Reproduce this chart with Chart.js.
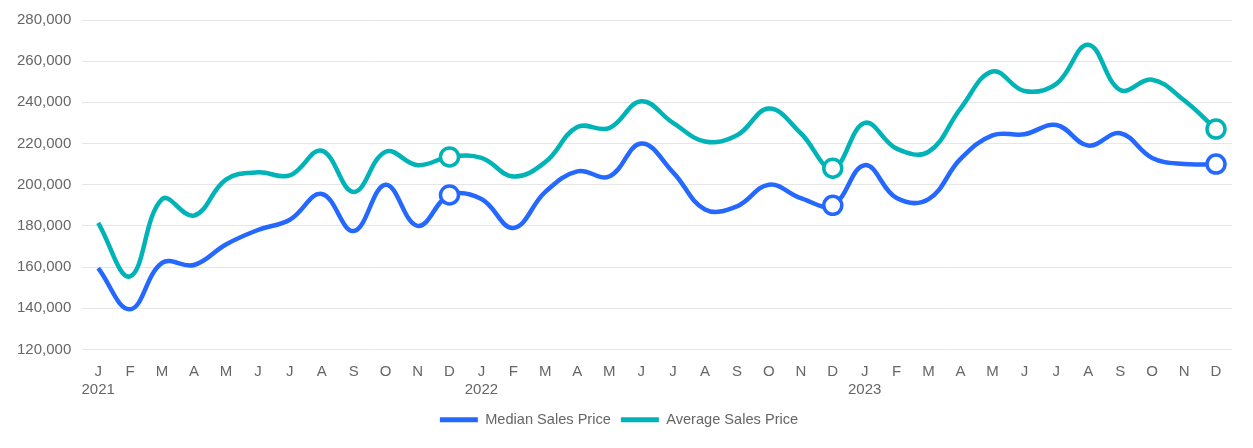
<!DOCTYPE html>
<html>
<head>
<meta charset="utf-8">
<script src="https://cdn.jsdelivr.net/npm/chart.js@4"></script>
<style>
  html, body { margin: 0; padding: 0; background: #fff; }
  #wrap { width: 1253px; height: 448px; }
</style>
</head>
<body>
<div id="wrap"><canvas id="c"></canvas></div>
<script>
const monthLabels = ['J','F','M','A','M','J','J','A','S','O','N','D'];
const years = ['2021','2022','2023'];
const medianSalesPrice = [
  159500, 139500, 162000, 161000, 171000, 178000, 183000, 195500, 177500, 200000, 180000, 195000,
  193000, 179000, 196500, 206500, 204000, 220000, 206000, 188000, 189500, 200000, 193500, 190000,
  209500, 193500, 193000, 212500, 224000, 224500, 229000, 219000, 225000, 213000, 210000, 210000
];
const averageSalesPrice = [
  181500, 155500, 193000, 185000, 202500, 206000, 204500, 216500, 196500, 216000, 209500, 213500,
  213000, 204000, 211000, 228000, 227500, 240500, 230000, 221000, 224000, 237000, 225000, 208000,
  230000, 217500, 216000, 237000, 255000, 245500, 249000, 268000, 246000, 251000, 241000, 227000
];
const highlightIdx = [11, 23, 35];

const labels = [];
years.forEach(y => monthLabels.forEach((m, i) => labels.push(i === 0 ? [m, y] : m)));
const radii = medianSalesPrice.map((_, i) => highlightIdx.includes(i) ? 9 : 0);

Chart.defaults.font.family = '"Liberation Sans", Arial, sans-serif';
Chart.defaults.font.size = 15;
Chart.defaults.color = '#666666';

new Chart(document.getElementById('c'), {
  type: 'line',
  data: {
    labels: labels,
    datasets: [
      {
        label: 'Median Sales Price',
        data: medianSalesPrice,
        borderColor: '#2468ff',
        backgroundColor: '#2468ff',
        borderWidth: 4.5,
        tension: 0.4,
        pointRadius: radii,
        pointBackgroundColor: '#ffffff',
        pointBorderColor: '#2468ff',
        pointBorderWidth: 3.5,
        fill: false
      },
      {
        label: 'Average Sales Price',
        data: averageSalesPrice,
        borderColor: '#00b3b7',
        backgroundColor: '#00b3b7',
        borderWidth: 4.5,
        tension: 0.4,
        pointRadius: radii,
        pointBackgroundColor: '#ffffff',
        pointBorderColor: '#00b3b7',
        pointBorderWidth: 3.5,
        fill: false
      }
    ]
  },
  options: {
    responsive: true,
    maintainAspectRatio: false,
    animation: false,
    layout: { padding: { top: 16, right: 21, left: 6, bottom: 11 } },
    plugins: {
      tooltip: { enabled: false },
      legend: {
        position: 'bottom',
        labels: {
          boxWidth: 38,
          boxHeight: 5,
          padding: 10,
          font: { size: 14.6 },
          color: '#666666',
          generateLabels: (chart) => chart.data.datasets.map((ds, i) => ({
            text: ds.label,
            fillStyle: ds.borderColor,
            strokeStyle: ds.borderColor,
            fontColor: '#666666',
            lineWidth: 0,
            datasetIndex: i,
            hidden: false
          }))
        }
      }
    },
    scales: {
      x: {
        offset: true,
        grid: { display: false, drawTicks: false },
        border: { display: false },
        ticks: { padding: 13, maxRotation: 0, autoSkip: false, color: '#666666' },
        afterFit: (s) => { s.height -= 9; }
      },
      y: {
        min: 120000,
        max: 280000,
        grid: { color: '#e6e6e6', drawTicks: false, lineWidth: 1 },
        border: { display: false },
        ticks: {
          stepSize: 20000,
          padding: 11,
          color: '#666666',
          callback: v => v.toLocaleString('en-US')
        }
      }
    }
  }
});
</script>
</body>
</html>
